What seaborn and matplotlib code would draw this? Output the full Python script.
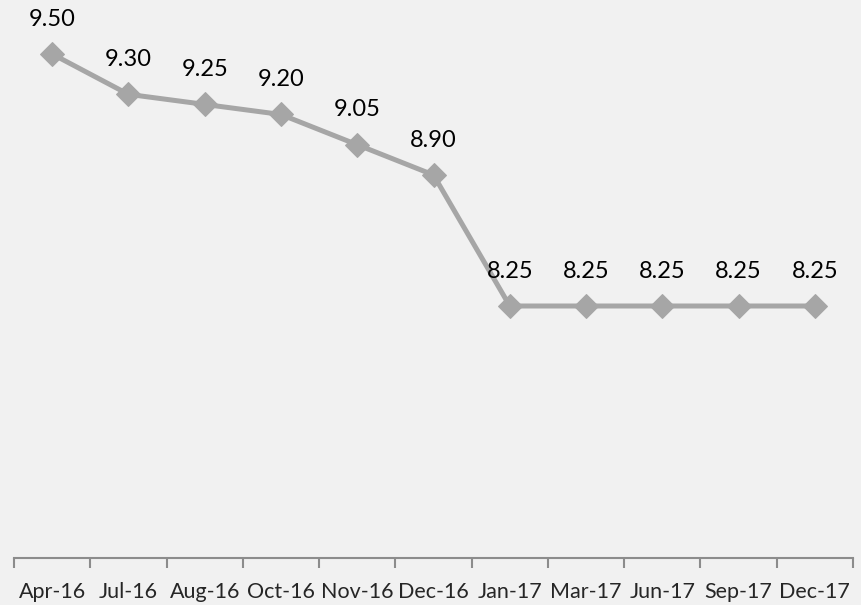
import numpy as np
import pandas as pd
import seaborn as sns
import matplotlib.pyplot as plt

months = ["Apr-16", "Jul-16", "Aug-16", "Oct-16", "Nov-16", "Dec-16",
          "Jan-17", "Mar-17", "Jun-17", "Sep-17", "Dec-17"]
rates = [9.50, 9.30, 9.25, 9.20, 9.05, 8.90, 8.25, 8.25, 8.25, 8.25, 8.25]

sns.set_style("white")
plt.rcParams['font.family'] = ['Lato', 'DejaVu Sans']

bg = "#f1f1f1"
line_col = "#a6a6a6"

df = pd.DataFrame({"pos": np.arange(len(months)), "rate": rates})

fig = plt.figure(figsize=(8.62, 6.05), dpi=100, facecolor=bg)
ax = fig.add_axes([14 / 862, 47 / 605, 839 / 862, 558 / 605])
ax.set_facecolor(bg)

sns.lineplot(data=df, x="pos", y="rate", ax=ax, color=line_col, linewidth=3.6,
             marker="D", markersize=12, markeredgecolor=line_col, sort=False)

for x, y in zip(df["pos"], df["rate"]):
    ax.annotate(f"{y:.2f}", (x, y), xytext=(0, 25), textcoords="offset points",
                ha="center", va="center", fontsize=17, color="black")

ax.set_xlim(-0.5, len(months) - 0.5)
ax.set_ylim(7.0, 7.0 + 558 / 201.6)

# boundary ticks, labels in the middle of each category
ax.set_xticks(np.arange(len(months) + 1) - 0.5)
ax.set_xticklabels([])
ax.set_xticks(np.arange(len(months)), minor=True)
ax.set_xticklabels(months, minor=True, fontsize=15.5)
ax.tick_params(axis="x", which="major", bottom=True, length=7, width=1.5,
               color="#8c8c8c", direction="out")
ax.tick_params(axis="x", which="minor", bottom=True, length=0, pad=17)
ax.set_yticks([])
ax.set_xlabel("")
ax.set_ylabel("")

for s in ["top", "right", "left"]:
    ax.spines[s].set_visible(False)
ax.spines["bottom"].set_color("#8c8c8c")
ax.spines["bottom"].set_linewidth(1.5)

fig.savefig("out.png", dpi=100, facecolor=bg)
